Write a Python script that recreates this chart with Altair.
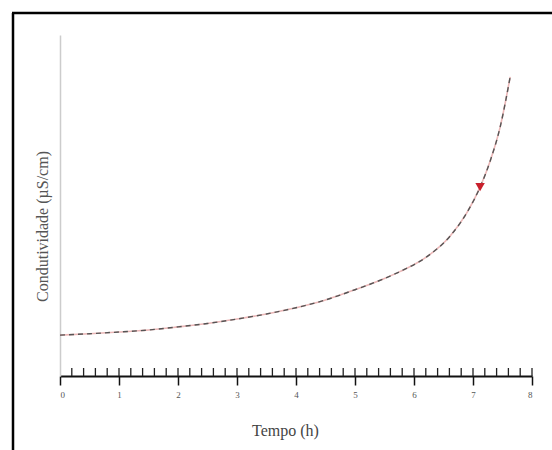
import altair as alt
import pandas as pd

# Curve (time in h, conductivity in arbitrary units)
tempo = [0.0, 0.5, 1.0, 1.5, 2.0, 2.5, 3.0, 3.5, 4.0, 4.5, 5.0, 5.5, 5.76, 6.22, 6.61, 6.9, 7.12, 7.29, 7.46, 7.63]
condut = [12.0, 12.4, 12.9, 13.5, 14.4, 15.4, 16.7, 18.2, 20.0, 22.3, 25.3, 28.6, 30.6, 35.0, 41.0, 48.0, 55.4, 63.0, 73.0, 87.7]

# Marker (red triangle)
marker_t = [7.12]
marker_c = [55.4]

# Minor tick positions on the time axis
minor_ticks = [0.2, 0.4, 0.6, 0.8, 1.0, 1.2, 1.4, 1.6, 1.8, 2.0, 2.2, 2.4, 2.6, 2.8, 3.0,
               3.2, 3.4, 3.6, 3.8, 4.0, 4.2, 4.4, 4.6, 4.8, 5.0, 5.2, 5.4, 5.6, 5.8, 6.0,
               6.2, 6.4, 6.6, 6.8, 7.0, 7.2, 7.4, 7.6, 7.8, 8.0]
major_ticks = [0, 1, 2, 3, 4, 5, 6, 7, 8]

W, H = 472, 341

df = pd.DataFrame({"t": tempo, "c": condut})
dm = pd.DataFrame({"t": marker_t, "c": marker_c})
dt = pd.DataFrame({"t": minor_ticks})

xs = alt.Scale(domain=[0, 8], nice=False)
ys = alt.Scale(domain=[0, 100], nice=False)

xaxis = alt.Axis(
    values=major_ticks, format="d", grid=False, domainColor="#111", domainWidth=2,
    tickColor="#111", tickWidth=1.5, tickSize=9, labelFont="Liberation Serif",
    labelFontSize=9, labelColor="#555", labelPadding=5,
    title="Tempo (h)", titleFont="Liberation Serif", titleFontSize=16,
    titleFontWeight="normal", titleColor="#444", titleX=225, titleY=46,
)
yaxis = alt.Axis(
    grid=False, labels=False, ticks=False, domainColor="#cccccc", domainWidth=1.5,
    title="Condutividade (µS/cm)", titleFont="Liberation Serif", titleFontSize=16,
    titleFontWeight="normal", titleColor="#555", titleX=-18, titleY=191,
    titleAngle=270, titleBaseline="middle", titleAlign="center",
)

base_line = alt.Chart(df).mark_line(color="#ebb7b7", strokeWidth=1.6, interpolate="monotone").encode(
    x=alt.X("t:Q", scale=xs, axis=xaxis),
    y=alt.Y("c:Q", scale=ys, axis=yaxis),
)
dash_line = alt.Chart(df).mark_line(color="#555555", strokeWidth=1.4, strokeDash=[5, 4], interpolate="monotone").encode(
    x=alt.X("t:Q", scale=xs),
    y=alt.Y("c:Q", scale=ys),
)
marker = alt.Chart(dm).mark_point(shape="triangle-down", filled=True, color="#c8202c", size=90, opacity=1).encode(
    x=alt.X("t:Q", scale=xs),
    y=alt.Y("c:Q", scale=ys),
)
minor = alt.Chart(dt).mark_rule(color="#222", strokeWidth=1.3).encode(
    x=alt.X("t:Q", scale=xs),
    y=alt.value(H - 8),
    y2=alt.value(H),
)
# frame around the picture (decorative)
frame_left = alt.Chart(dm).mark_rule(color="#000", strokeWidth=2.5).encode(
    x=alt.value(-47), y=alt.value(-22), y2=alt.value(420)
)
frame_top = alt.Chart(dm).mark_rule(color="#000", strokeWidth=2.5).encode(
    x=alt.value(-48), x2=alt.value(500), y=alt.value(-22)
)

chart = alt.layer(base_line, dash_line, minor, marker, frame_left, frame_top).properties(
    width=W, height=H,
    autosize=alt.AutoSizeParams(type="none"),
    padding={"left": 60, "top": 35, "right": 20, "bottom": 74},
).configure_view(stroke="transparent", strokeWidth=0)

chart.save("out.html", embed_options={"renderer": "svg", "actions": False})
